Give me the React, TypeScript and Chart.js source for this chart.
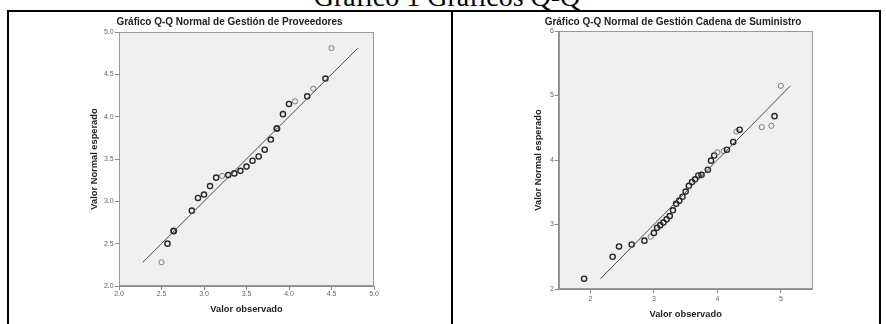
import React, { useEffect, useRef } from "react";
import { Chart, registerables } from "chart.js";

Chart.register(...registerables);

// ---------- Data: Gestión de Proveedores ----------
const provObserved = [2.5, 2.571, 2.643, 2.857, 2.929, 3.0, 3.071, 3.143, 3.214, 3.286, 3.357, 3.429, 3.5, 3.571, 3.643, 3.714, 3.786, 3.857, 3.929, 4.0, 4.071, 4.214, 4.286, 4.429, 4.5];
const provExpected = [2.28, 2.5, 2.65, 2.89, 3.04, 3.08, 3.18, 3.28, 3.3, 3.31, 3.33, 3.36, 3.41, 3.48, 3.53, 3.61, 3.73, 3.86, 4.03, 4.15, 4.18, 4.24, 4.33, 4.45, 4.81];
const provCounts = [1, 2, 3, 2, 2, 2, 2, 2, 1, 2, 2, 2, 2, 2, 2, 2, 2, 3, 2, 2, 1, 2, 1, 2, 1];
const provLine = [2.28, 4.81];
const provXTicks = [2.0, 2.5, 3.0, 3.5, 4.0, 4.5, 5.0];
const provYTicks = [2.0, 2.5, 3.0, 3.5, 4.0, 4.5, 5.0];

// ---------- Data: Gestión Cadena de Suministro ----------
const supObserved = [1.9, 2.35, 2.45, 2.65, 2.85, 2.95, 3.0, 3.05, 3.1, 3.15, 3.2, 3.25, 3.3, 3.35, 3.4, 3.45, 3.5, 3.55, 3.6, 3.65, 3.7, 3.75, 3.85, 3.9, 3.95, 4.0, 4.1, 4.15, 4.25, 4.3, 4.35, 4.7, 4.85, 4.9, 5.0];
const supExpected = [2.16, 2.5, 2.66, 2.69, 2.75, 2.81, 2.87, 2.95, 2.99, 3.03, 3.08, 3.13, 3.22, 3.32, 3.37, 3.43, 3.51, 3.6, 3.66, 3.7, 3.76, 3.77, 3.85, 3.99, 4.07, 4.12, 4.14, 4.16, 4.28, 4.44, 4.47, 4.51, 4.53, 4.68, 5.15];
const supCounts = [2, 2, 2, 2, 2, 1, 2, 2, 2, 2, 2, 2, 2, 2, 2, 2, 2, 2, 2, 2, 2, 2, 2, 2, 2, 1, 1, 2, 2, 1, 2, 1, 1, 2, 1];
const supLine = [2.16, 5.15];
const supXTicks = [2, 3, 4, 5];
const supYTicks = [2, 3, 4, 5, 6];

const pageTitle = "Gráfico 1 Gráficos Q-Q";
const provTitle = "Gráfico Q-Q Normal de Gestión de Proveedores";
const supTitle = "Gráfico Q-Q Normal de Gestión Cadena de Suministro";
const xTitle = "Valor observado";
const yTitle = "Valor Normal esperado";

const FAMILY = "'Liberation Sans', Arial, sans-serif";

const framePlugin = {
  id: "qqFrame",
  beforeDraw(chart: any) {
    const { ctx, chartArea } = chart;
    ctx.save();
    ctx.fillStyle = "#f0f0f0";
    ctx.fillRect(chartArea.left, chartArea.top, chartArea.right - chartArea.left, chartArea.bottom - chartArea.top);
    ctx.restore();
  },
  afterDraw(chart: any) {
    const { ctx, chartArea } = chart;
    const l = Math.round(chartArea.left) + 0.5;
    const t = Math.round(chartArea.top) + 0.5;
    const r = Math.round(chartArea.right) - 0.5;
    const b = Math.round(chartArea.bottom) - 0.5;
    ctx.save();
    ctx.strokeStyle = "#9a9a9a";
    ctx.lineWidth = 1;
    ctx.strokeRect(l, t, r - l, b - t);
    ctx.restore();
  },
};

type Spec = {
  observed: number[];
  expected: number[];
  counts: number[];
  line: number[];
  xTicks: number[];
  yTicks: number[];
  xMin: number;
  xMax: number;
  yMin: number;
  yMax: number;
  decimals: number;
  title: string;
  padRight: number;
  yWidth: number;
  xHeight: number;
  yTitlePad: number;
  xTitlePad: number;
  xTickPad: number;
  yTickPad: number;
  titlePadBottom: number;
};

function buildConfig(s: Spec): any {
  const points = s.observed.map((v, i) => ({ x: v, y: s.expected[i] }));
  return {
    type: "scatter",
    data: {
      datasets: [
        {
          type: "line",
          data: s.line.map((v) => ({ x: v, y: v })),
          borderColor: "#4a4a4a",
          borderWidth: 1,
          pointRadius: 0,
          fill: false,
        },
        {
          data: points,
          pointRadius: 2.6,
          pointBackgroundColor: "rgba(0,0,0,0)",
          pointBorderColor: s.counts.map((c) => (c > 1 ? "#262626" : "#7c7c7c")),
          pointBorderWidth: s.counts.map((c) => (c > 2 ? 1.8 : c > 1 ? 1.4 : 1)),
        },
      ],
    },
    options: {
      responsive: false,
      maintainAspectRatio: false,
      animation: false,
      events: [],
      layout: { padding: { left: 0, right: s.padRight, top: 0, bottom: 0 } },
      plugins: {
        legend: { display: false },
        tooltip: { enabled: false },
        title: {
          display: true,
          text: s.title,
          color: "#222",
          font: { family: FAMILY, size: 10, weight: "bold", lineHeight: 1.2 },
          padding: { top: 4, bottom: s.titlePadBottom },
        },
      },
      scales: {
        x: {
          type: "linear",
          position: "bottom",
          min: s.xMin,
          max: s.xMax,
          afterBuildTicks: (sc: any) => {
            sc.ticks = s.xTicks.map((v) => ({ value: v }));
          },
          afterFit: (sc: any) => {
            sc.height = s.xHeight;
          },
          ticks: {
            callback: (v: any) => Number(v).toFixed(s.decimals),
            color: "#666",
            font: { family: FAMILY, size: 7 },
            padding: s.xTickPad,
            maxRotation: 0,
            autoSkip: false,
          },
          grid: { drawOnChartArea: false, drawTicks: true, tickLength: 4, color: "#8a8a8a" },
          border: { display: true, color: "#8a8a8a" },
          title: {
            display: true,
            text: xTitle,
            color: "#222",
            font: { family: FAMILY, size: 9.3, weight: "bold", lineHeight: 1.2 },
            padding: { top: 0, bottom: s.xTitlePad },
          },
        },
        y: {
          type: "linear",
          position: "left",
          min: s.yMin,
          max: s.yMax,
          afterBuildTicks: (sc: any) => {
            sc.ticks = s.yTicks.map((v) => ({ value: v }));
          },
          afterFit: (sc: any) => {
            sc.width = s.yWidth;
          },
          ticks: {
            callback: (v: any) => Number(v).toFixed(s.decimals),
            color: "#666",
            font: { family: FAMILY, size: 7 },
            padding: s.yTickPad,
            autoSkip: false,
          },
          grid: { drawOnChartArea: false, drawTicks: true, tickLength: 4, color: "#8a8a8a" },
          border: { display: true, color: "#8a8a8a" },
          title: {
            display: true,
            text: yTitle,
            color: "#222",
            font: { family: FAMILY, size: 9.3, weight: "bold", lineHeight: 1.2 },
            padding: { top: s.yTitlePad, bottom: 0 },
          },
        },
      },
    },
    plugins: [framePlugin],
  };
}

const provSpec: Spec = {
  observed: provObserved,
  expected: provExpected,
  counts: provCounts,
  line: provLine,
  xTicks: provXTicks,
  yTicks: provYTicks,
  xMin: 2,
  xMax: 5,
  yMin: 2,
  yMax: 5,
  decimals: 1,
  title: provTitle,
  padRight: 6,
  yWidth: 34,
  xHeight: 38,
  yTitlePad: 3.7,
  xTitlePad: 9.4,
  xTickPad: 0,
  yTickPad: 1.3,
  titlePadBottom: 4,
};

const supSpec: Spec = {
  observed: supObserved,
  expected: supExpected,
  counts: supCounts,
  line: supLine,
  xTicks: supXTicks,
  yTicks: supYTicks,
  xMin: 1.5,
  xMax: 5.5,
  yMin: 2,
  yMax: 6,
  decimals: 0,
  title: supTitle,
  padRight: 2,
  yWidth: 28.7,
  xHeight: 35,
  yTitlePad: 3.1,
  xTitlePad: 4.4,
  xTickPad: 1.5,
  yTickPad: 0.7,
  titlePadBottom: 3,
};

function QQPanel({ spec, left, top, width, height }: { spec: Spec; left: number; top: number; width: number; height: number }) {
  const ref = useRef<HTMLCanvasElement | null>(null);
  useEffect(() => {
    if (!ref.current) return;
    const chart = new Chart(ref.current, buildConfig(spec));
    return () => chart.destroy();
  }, [spec]);
  return (
    <canvas
      ref={ref}
      width={width}
      height={height}
      style={{ position: "absolute", left, top, width, height }}
    />
  );
}

export default function App() {
  const line = "#000";
  return (
    <div style={{ position: "fixed", left: 0, top: 0, width: 886, height: 324, background: "#fff", overflow: "hidden" }}>
      <div
        style={{
          position: "absolute",
          left: 4,
          width: 886,
          top: -17.4,
          textAlign: "center",
          fontFamily: "'Liberation Serif', 'Times New Roman', serif",
          fontSize: 28,
          lineHeight: "28px",
          color: "#000",
          whiteSpace: "nowrap",
        }}
      >
        {pageTitle}
      </div>
      <div style={{ position: "absolute", left: 7, top: 10, width: 874, height: 2, background: line }} />
      <div style={{ position: "absolute", left: 7, top: 10, width: 2, height: 320, background: line }} />
      <div style={{ position: "absolute", left: 451, top: 10, width: 2, height: 320, background: line }} />
      <div style={{ position: "absolute", left: 879, top: 10, width: 2, height: 320, background: line }} />
      <QQPanel spec={provSpec} left={85} top={12} width={295} height={312} />
      <QQPanel spec={supSpec} left={530} top={12} width={288} height={312} />
    </div>
  );
}
